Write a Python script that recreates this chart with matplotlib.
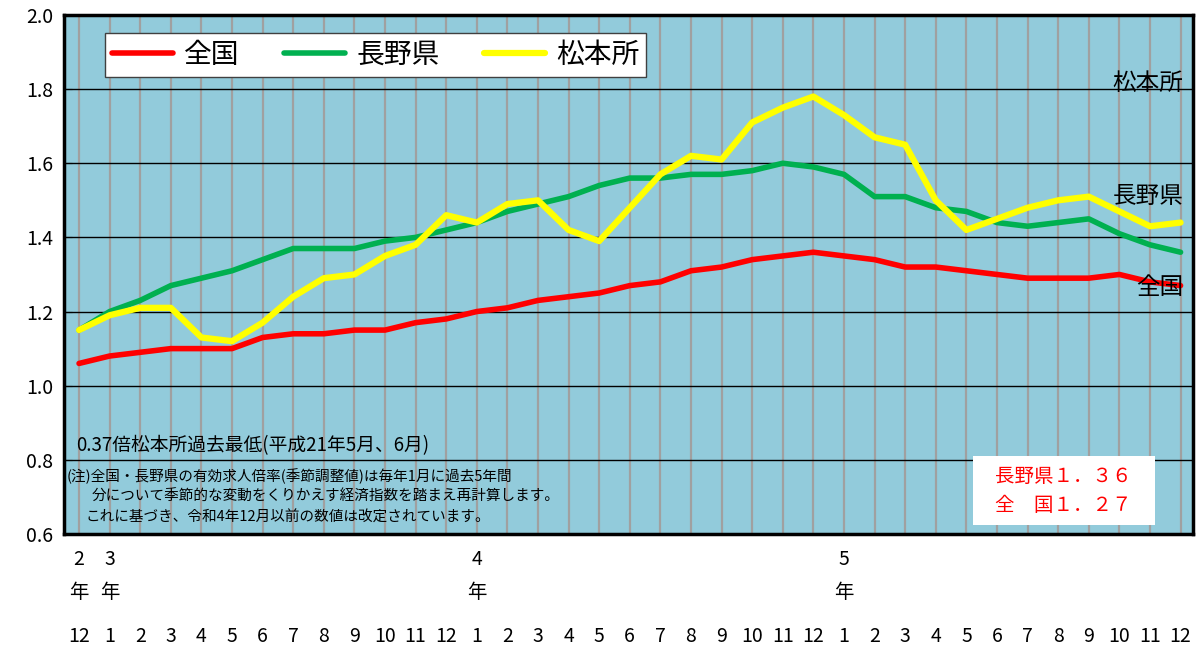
import matplotlib
matplotlib.use('Agg')
import matplotlib.pyplot as plt
from matplotlib.patches import Rectangle

plt.rcParams['font.family'] = ['Noto Sans CJK JP', 'DejaVu Sans']

# 令和2年12月 〜 令和5年12月
months = [12, 1, 2, 3, 4, 5, 6, 7, 8, 9, 10, 11, 12,
          1, 2, 3, 4, 5, 6, 7, 8, 9, 10, 11, 12,
          1, 2, 3, 4, 5, 6, 7, 8, 9, 10, 11, 12]
year_labels = {0: '2', 1: '3', 13: '4', 25: '5'}

zenkoku = [1.06, 1.08, 1.09, 1.10, 1.10, 1.10, 1.13, 1.14, 1.14, 1.15, 1.15, 1.17, 1.18,
           1.20, 1.21, 1.23, 1.24, 1.25, 1.27, 1.28, 1.31, 1.32, 1.34, 1.35, 1.36,
           1.35, 1.34, 1.32, 1.32, 1.31, 1.30, 1.29, 1.29, 1.29, 1.30, 1.28, 1.27]
nagano = [1.15, 1.20, 1.23, 1.27, 1.29, 1.31, 1.34, 1.37, 1.37, 1.37, 1.39, 1.40, 1.42,
          1.44, 1.47, 1.49, 1.51, 1.54, 1.56, 1.56, 1.57, 1.57, 1.58, 1.60, 1.59,
          1.57, 1.51, 1.51, 1.48, 1.47, 1.44, 1.43, 1.44, 1.45, 1.41, 1.38, 1.36]
matsumoto = [1.15, 1.19, 1.21, 1.21, 1.13, 1.12, 1.17, 1.24, 1.29, 1.30, 1.35, 1.38, 1.46,
             1.44, 1.49, 1.50, 1.42, 1.39, 1.48, 1.57, 1.62, 1.61, 1.71, 1.75, 1.78,
             1.73, 1.67, 1.65, 1.50, 1.42, 1.45, 1.48, 1.50, 1.51, 1.47, 1.43, 1.44]

x = list(range(len(months)))

fig = plt.figure(figsize=(11.97, 6.5), dpi=100)
ax = fig.add_axes([0.0535, 0.1785, 0.943, 0.7985])
ax.set_facecolor('#92CBDB')

# 縦の補助線（各月）
for xi in x:
    ax.axvline(xi, color='#A0A0A0', lw=1.6, zorder=1)
ax.set_ylim(0.6, 2.0)
ax.set_yticks([0.6, 0.8, 1.0, 1.2, 1.4, 1.6, 1.8, 2.0])
ax.set_yticklabels(['0.6', '0.8', '1.0', '1.2', '1.4', '1.6', '1.8', '2.0'], fontsize=14)
for yv in [0.8, 1.0, 1.2, 1.4, 1.6, 1.8]:
    ax.axhline(yv, color='black', lw=1, zorder=1.5)
ax.tick_params(axis='y', direction='in', length=6, pad=8)
ax.set_xlim(-0.49, 36.4)
ax.set_xticks([])
for s in ax.spines.values():
    s.set_linewidth(2.5)

l1, = ax.plot(x, zenkoku, color='#FF0000', lw=4, zorder=3, solid_capstyle='round', label='全国')
l2, = ax.plot(x, nagano, color='#00B050', lw=4, zorder=3, solid_capstyle='round', label='長野県')
l3, = ax.plot(x, matsumoto, color='#FFFF00', lw=4.5, zorder=4, solid_capstyle='round', label='松本所')

leg = ax.legend(handles=[l1, l2, l3], loc='upper left', bbox_to_anchor=(0.036, 0.965),
                ncol=3, fontsize=20, frameon=True, fancybox=False, edgecolor='#404040',
                framealpha=1, handlelength=2.2, columnspacing=1.6, borderpad=0.25,
                handletextpad=0.4, borderaxespad=0)
leg.get_frame().set_linewidth(1)
leg.set_zorder(6)

# 系列名（右端）
ax.text(36.1, 1.815, '松本所', fontsize=17, ha='right', va='center', zorder=5)
ax.text(36.1, 1.51, '長野県', fontsize=17, ha='right', va='center', zorder=5)
ax.text(36.1, 1.265, '全国', fontsize=17, ha='right', va='center', zorder=5)

# 注記
ax.text(-0.1, 0.838, '0.37倍松本所過去最低(平成21年5月、6月)', fontsize=13.5, ha='left', va='center', zorder=5)
ax.text(-0.4, 0.755, '(注)全国・長野県の有効求人倍率(季節調整値)は毎年1月に過去5年間',
        fontsize=10.5, ha='left', va='center', zorder=5)
ax.text(0.4, 0.7, '分について季節的な変動をくりかえす経済指数を踏まえ再計算します。',
        fontsize=10.5, ha='left', va='center', zorder=5)
ax.text(0.2, 0.645, 'これに基づき、令和4年12月以前の数値は改定されています。',
        fontsize=10.5, ha='left', va='center', zorder=5)

# 最新値ボックス
ax.add_patch(Rectangle((29.2, 0.625), 5.95, 0.184, facecolor='white', edgecolor='none', zorder=5))
ax.text(29.95, 0.755, '長野県１．３６', color='#FF0000', fontsize=14, ha='left', va='center', zorder=6)
ax.text(29.95, 0.678, '全　国１．２７', color='#FF0000', fontsize=14, ha='left', va='center', zorder=6)

# x軸ラベル（月・年）
tr = ax.get_xaxis_transform()
for xi, m in zip(x, months):
    ax.text(xi, -0.198, str(m), transform=tr, fontsize=14, ha='center', va='center', clip_on=False)
for xi, yl in year_labels.items():
    ax.text(xi, -0.05, yl, transform=tr, fontsize=14, ha='center', va='center', clip_on=False)
    ax.text(xi, -0.112, '年', transform=tr, fontsize=14, ha='center', va='center', clip_on=False)

fig.savefig('out.png', dpi=100)
